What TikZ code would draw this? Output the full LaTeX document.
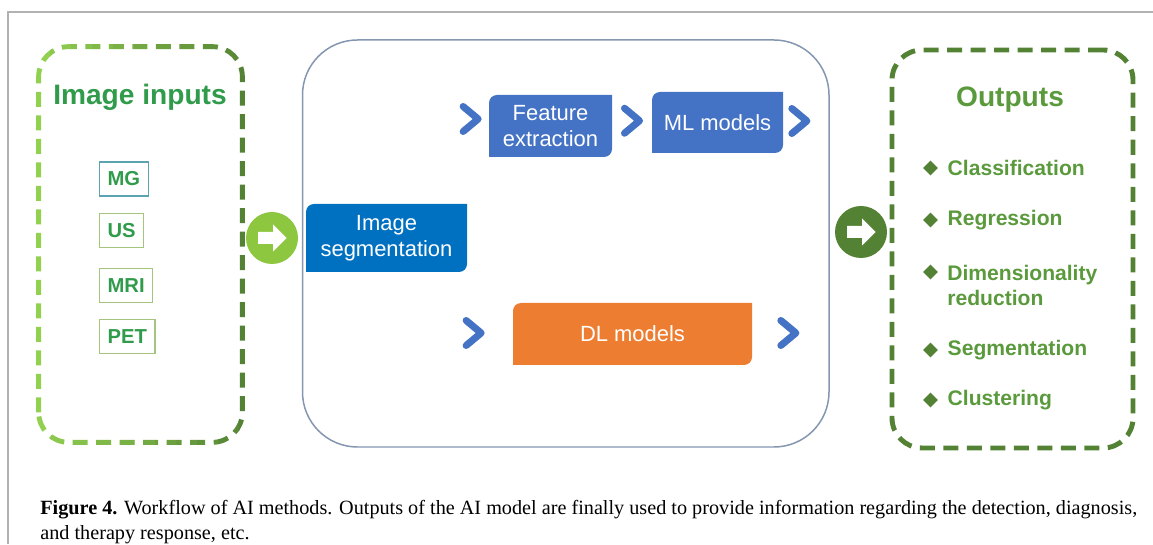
\documentclass[tikz,border=0pt]{standalone}
\usepackage{fontspec}
\setmainfont{Liberation Serif}
\setsansfont{Liberation Sans}
\usepackage{xcolor}
\definecolor{ingreen}{HTML}{92D050}
\definecolor{hubgreen}{HTML}{8DC63F}
\definecolor{outgreen}{HTML}{548235}
\definecolor{titlegreen}{HTML}{2F9B4B}
\definecolor{itemgreen}{HTML}{5A9A3C}
\definecolor{mgline}{HTML}{5BA3B0}
\definecolor{modline}{HTML}{A5C47E}
\definecolor{mlblue}{HTML}{4472C4}
\definecolor{segblue}{HTML}{0070C0}
\definecolor{dlorange}{HTML}{ED7D31}
\definecolor{panelline}{HTML}{8496B0}
\usepackage{tikz}
\usetikzlibrary{shapes.geometric,positioning,calc}

\begin{document}
\begin{tikzpicture}[
  font=\sffamily,
  dashbox/.style={
    rectangle, rounded corners=0.6cm,
    line width=2.8pt, dash pattern=on 0.3cm off 0.17cm
  },
  modality/.style={
    rectangle, draw=#1, line width=0.7pt,
    minimum height=0.68cm, inner xsep=0.16cm,
    text=titlegreen, font=\sffamily\bfseries\fontsize{11.5}{13}\selectfont
  },
  block/.style={
    rectangle, align=center, text=white, inner sep=0pt,
    font=\sffamily\fontsize{12.5}{15}\selectfont,
    path picture={
      \fill[#1] (path picture bounding box.south west)
        -- ($(path picture bounding box.north west)+(0,-0.16)$)
        arc[start angle=180, end angle=90, radius=0.16]
        -- (path picture bounding box.north east)
        -- ($(path picture bounding box.south east)+(0,0.16)$)
        arc[start angle=0, end angle=-90, radius=0.16]
        -- cycle;
    }
  },
  hub/.style={circle, fill=#1, minimum size=1.04cm, inner sep=0pt},
  chev/.style={mlblue, line width=4pt, line cap=round, line join=round},
  bullet/.style={diamond, fill=outgreen, minimum size=0.3cm, inner sep=0pt},
  outitem/.style={
    anchor=west, align=left, inner sep=0pt, text=itemgreen,
    font=\sffamily\bfseries\fontsize{12}{14.2}\selectfont
  },
  heading/.style={text=#1, font=\sffamily\bfseries\fontsize{16}{19}\selectfont}
]
\useasboundingbox (0,0) rectangle (23.06,10.88);
\draw[gray!60, line width=1pt] (23.06,10.64) -- (0.16,10.64) -- (0.16,0);

% inputs
\node[minimum width=4.06cm, minimum height=7.90cm, inner sep=0pt] (inputs) at (2.81,5.99) {};
\foreach \i in {0,...,10} {
  \pgfmathsetmacro{\mixpct}{100-10*\i}
  \begin{scope}
    \clip (0.58+0.42*\i,1.7) rectangle ++(0.42,8.5);
    \draw[dashbox, ingreen!\mixpct!outgreen] (inputs.south west) rectangle (inputs.north east);
  \end{scope}
}
\node[heading=titlegreen] (intitle) at (2.80,8.94) {Image inputs};
\node[modality=mgline, anchor=west] (mg) at (1.98,7.30) {MG};
\node[modality=modline, anchor=west] (us) at (1.98,6.27) {US};
\node[modality=modline, anchor=west] (mri) at (1.98,5.17) {MRI};
\node[modality=modline, anchor=west] (pet) at (1.98,4.15) {PET};

\node[hub=hubgreen] (hubin) at (5.44,6.12) {};

% methods
\node[draw=panelline, line width=0.85pt, rounded corners=1.1cm,
      minimum width=10.53cm, minimum height=8.14cm] (panel) at (11.315,6.01) {};
\node[block=segblue, minimum width=3.22cm, minimum height=1.36cm] (seg) at (7.73,6.12) {Image\\segmentation};
\node[block=mlblue, minimum width=2.46cm, minimum height=1.24cm] (feat) at (11.01,8.36) {Feature\\extraction};
\node[block=mlblue, minimum width=2.62cm, minimum height=1.22cm] (ml) at (14.35,8.43) {ML models};
\node[block=dlorange, minimum width=4.78cm, minimum height=1.24cm] (dl) at (12.65,4.20) {DL models};

\coordinate (ch1) at ($(feat.west)+(-0.36,0.14)$);
\coordinate (ch2) at ($(feat.east)!0.5!(ml.west)+(0,0.07)$);
\coordinate (ch3) at ($(ml.east)+(0.32,0.03)$);
\coordinate (ch4) at ($(dl.west)+(-0.78,0.02)$);
\coordinate (ch5) at ($(dl.east)+(0.72,0.02)$);
\foreach \c in {ch1,ch2,ch3,ch4,ch5} {
  \draw[chev] ($(\c)+(-0.15,0.25)$) -- ($(\c)+(0.15,0)$) -- ($(\c)+(-0.15,-0.25)$);
}

\node[hub=outgreen] (hubout) at (17.22,6.24) {};
\foreach \h in {hubin,hubout} {
  \fill[white] ($(\h)+(-0.28,0.12)$) -- ++(0.3,0) -- ++(0,0.15) -- ($(\h)+(0.29,0)$)
    -- ($(\h)+(0.02,-0.27)$) -- ++(0,0.15) -- ($(\h)+(-0.28,-0.12)$) -- cycle;
}

% outputs
\node[dashbox, draw=outgreen, minimum width=4.82cm, minimum height=7.96cm] (outputs) at (20.25,5.90) {};
\node[heading=itemgreen] (outtitle) at (20.20,8.88) {Outputs};
\node[bullet] (b1) at (18.61,7.52) {};
\node[bullet] (b2) at (18.61,6.48) {};
\node[bullet] (b3) at (18.61,5.44) {};
\node[bullet] (b4) at (18.61,3.88) {};
\node[bullet] (b5) at (18.61,2.88) {};
\node[outitem, right=0.18cm of b1] (o1) {Classification};
\node[outitem, right=0.18cm of b2] (o2) {Regression};
\node[outitem] (o3) at (18.94,5.18) {Dimensionality\\reduction};
\node[outitem, right=0.18cm of b4] (o4) {Segmentation};
\node[outitem, right=0.18cm of b5] (o5) {Clustering};

\node[anchor=north west, align=left, inner sep=0pt,
      font=\rmfamily\fontsize{11.5}{14.4}\selectfont] (caption) at (0.80,0.88)
  {\textbf{Figure 4.} Workflow of AI methods. Outputs of the AI model are finally used to provide information regarding the detection, diagnosis,\\and therapy response, etc.};
\end{tikzpicture}
\end{document}
